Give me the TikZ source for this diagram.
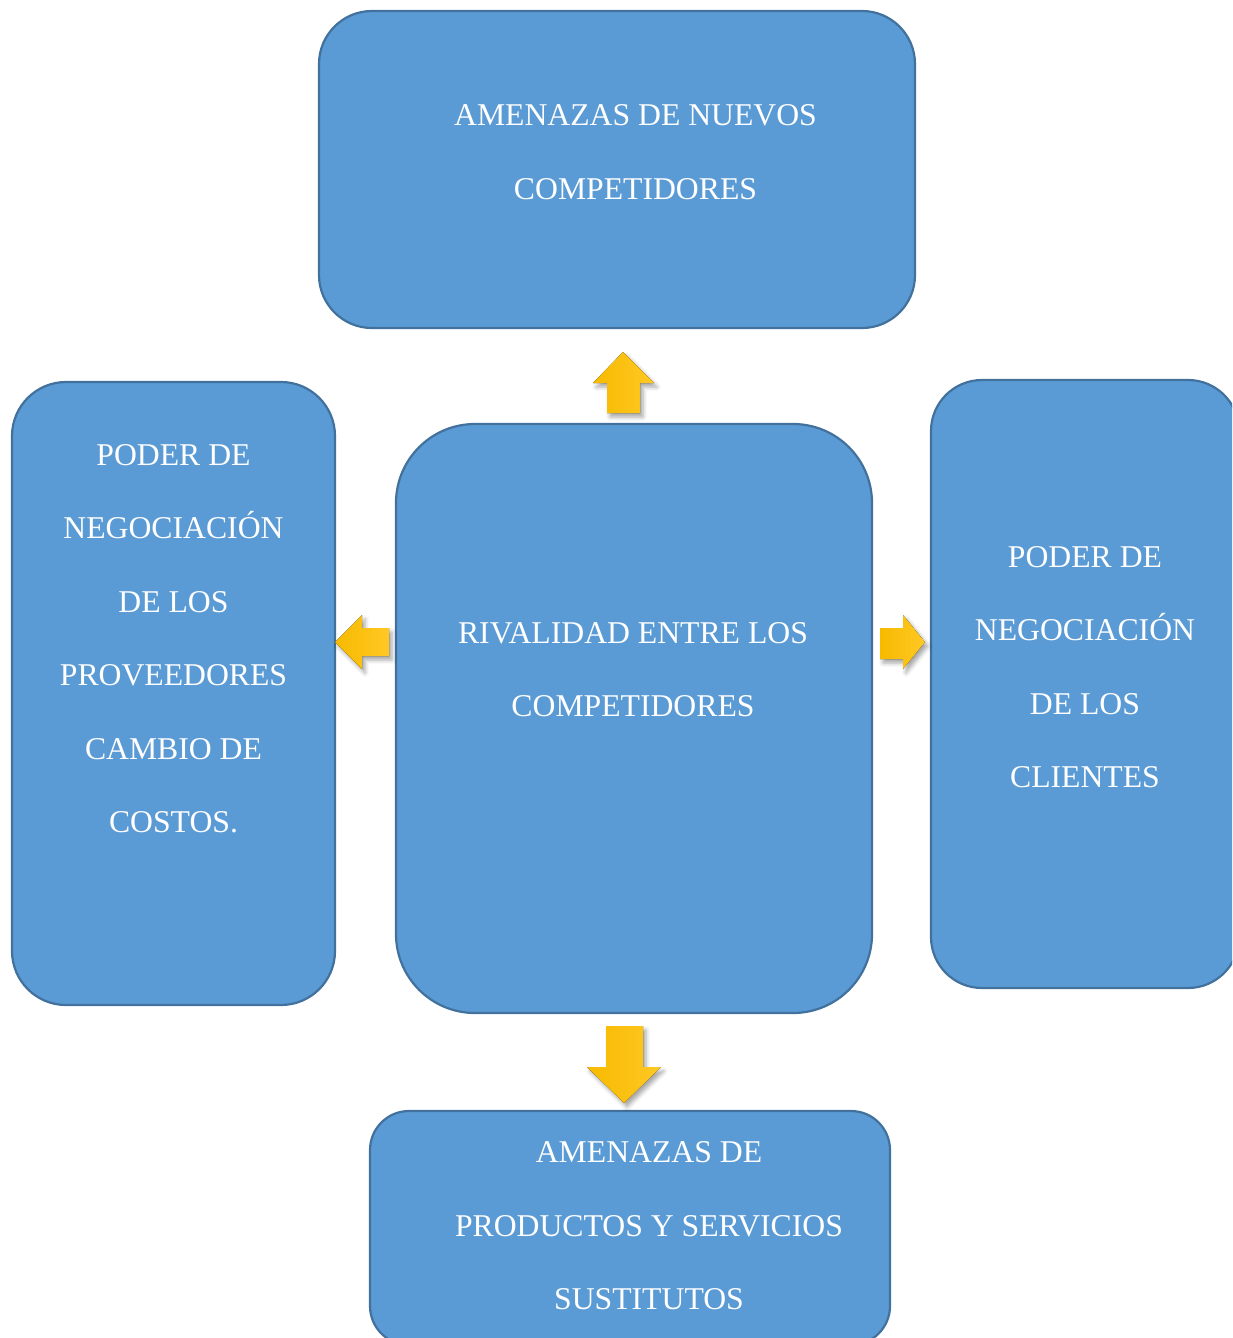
\documentclass[tikz,border=0pt]{standalone}
\usepackage{fontspec}
\setmainfont{Liberation Serif}
\usetikzlibrary{shadows.blur}

\definecolor{boxfill}{HTML}{5B9BD5}
\definecolor{boxline}{HTML}{41719C}
\definecolor{arrowA}{HTML}{F7BA00}
\definecolor{arrowB}{HTML}{FFC824}

\tikzset{
  force/.style={draw=boxline, line width=2.2pt, fill=boxfill, inner sep=0pt},
  label/.style={text=white, align=center, anchor=base, inner sep=0pt,
    font=\fontsize{31.7}{73.5}\selectfont},
  blockarrow/.style={left color=arrowA, right color=arrowB, draw=none,
    blur shadow={shadow xshift=3pt, shadow yshift=-4pt,
      shadow blur radius=4pt, shadow opacity=35}}
}

\begin{document}
\begin{tikzpicture}[x=1pt, y=-1pt]
\useasboundingbox (0,0) rectangle (1232,1338);
\clip (0,0) rectangle (1232,1338);

% the five forces
\node[force, minimum width=596pt, minimum height=317pt, rounded corners=53pt] (entrants) at (617,169.5) {};
\node[force, minimum width=323pt, minimum height=623pt, rounded corners=54pt] (suppliers) at (173.5,693.5) {};
\node[force, minimum width=476pt, minimum height=589pt, rounded corners=79pt] (rivalry) at (634,718.5) {};
\node[force, minimum width=308pt, minimum height=608pt, rounded corners=51pt] (buyers) at (1085,684) {};
\node[force, minimum width=520pt, minimum height=234pt, rounded corners=39pt] (substitutes) at (630,1228) {};

% texts (anchored at the baseline of the last line)
\node[label] (entrants-t) at (635.5,199) {AMENAZAS DE NUEVOS\\COMPETIDORES};
\node[label] (rivalry-t) at (633,716.5) {RIVALIDAD ENTRE LOS\\COMPETIDORES};
\node[label] (suppliers-t) at (173.5,832.5) {PODER DE\\NEGOCIACIÓN\\DE LOS\\PROVEEDORES\\CAMBIO DE\\COSTOS.};
\node[label] (buyers-t) at (1085,787.5) {PODER DE\\NEGOCIACIÓN\\DE LOS\\CLIENTES};
\node[label] (substitutes-t) at (649,1309.5) {AMENAZAS DE\\PRODUCTOS Y SERVICIOS\\SUSTITUTOS};

% block arrows pointing from the rivalry towards each force
\fill[blockarrow] (623,352) -- (654,383) -- (640,383) -- (640,413) -- (607,413) -- (607,383) -- (593,383) -- cycle;
\fill[blockarrow] (335,642) -- (362,615) -- (362,628) -- (389,628) -- (389,656) -- (362,656) -- (362,669) -- cycle;
\fill[blockarrow] (925,642) -- (903,669) -- (903,659) -- (880,659) -- (880,628) -- (903,628) -- (903,615) -- cycle;
\fill[blockarrow] (624,1103) -- (661,1067) -- (643,1067) -- (643,1026) -- (606,1026) -- (606,1067) -- (587,1067) -- cycle;
\end{tikzpicture}
\end{document}
